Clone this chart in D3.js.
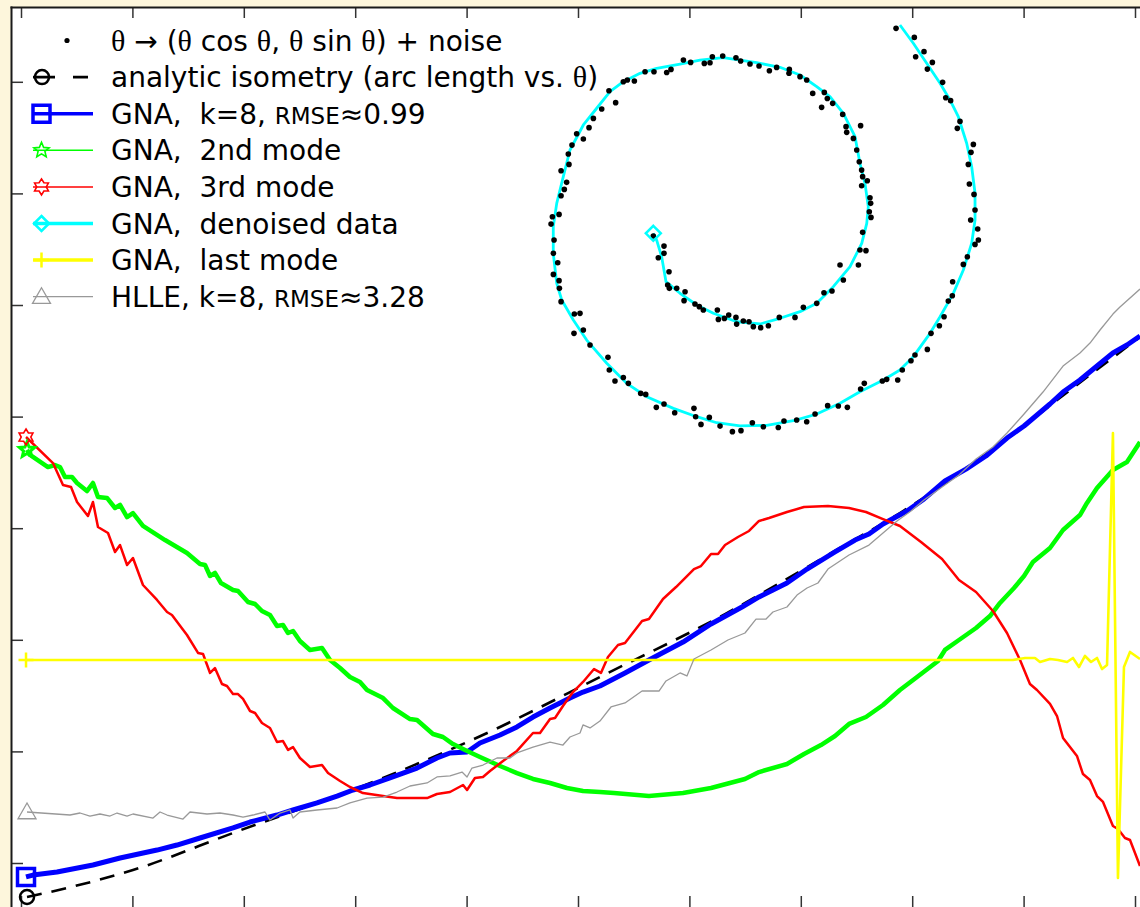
<!DOCTYPE html>
<html>
<head>
<meta charset="utf-8">
<script src="https://cdn.jsdelivr.net/npm/d3@7/dist/d3.min.js"></script>
<style>
  html, body { margin: 0; padding: 0; background: #fdf6dc; }
  svg { display: block; }
  text { font-family: "DejaVu Sans", sans-serif; white-space: pre; }
</style>
</head>
<body>
<svg></svg>
<script>
var width = 1140;
var height = 907;

// tick values (the axes carry no labels)
var xTicks = [0, 10, 20, 30, 40, 50, 60, 70, 80, 90, 100];
var yTicks = [0, 10, 20, 30, 40, 50, 60, 70];

// analytic isometry: arc length vs theta
var isometry = [[0.54,-3.05],[4.13,-2.24],[10.05,-0.63],[19.03,2.69],[32.50,7.62],[43.00,12.19],
  [51.97,16.67],[63.20,22.31],[68.13,25.09],[73.52,28.23],[78.90,31.36],[87.88,37.54],[94.17,42.38],[100.45,47.13]];

// GNA first mode (k=8)
var gnaMain = [[0.45,-1.25],[1.08,-1.08],[3.23,-0.81],[6.46,-0.18],[8.89,0.45],[12.21,1.16],[14.00,1.61],
  [16.07,2.24],[19.03,3.14],[20.56,3.67],[22.98,4.30],[24.42,4.75],[26.57,5.38],[28.37,6.00],[29.80,6.54],
  [31.33,6.99],[33.12,7.62],[35.55,8.51],[37.34,9.41],[38.51,9.86],[40.04,9.95],[41.20,10.75],[43.00,11.47],
  [44.52,12.19],[45.96,13.08],[47.49,13.89],[49.28,14.78],[50.45,15.32],[51.97,15.86],[54.22,17.03],
  [56.37,18.19],[59.43,19.80],[61.94,21.42],[64.72,22.94],[66.25,23.84],[68.76,25.09],[70.56,26.34],
  [73.07,27.87],[74.87,28.94],[76.12,29.48],[77.38,30.38],[79.53,31.54],[81.06,32.62],[82.94,34.23],
  [84.83,35.30],[86.62,36.47],[88.51,38.08],[90.04,39.16],[92.37,41.13],[93.54,42.20],[95.06,43.28],
  [96.59,44.53],[98.02,45.70],[99.28,46.42],[100.45,47.22]];

// GNA 2nd mode
var gnaMode2 = [[0.54,37.01],[0.81,36.56],[2.42,35.48],[3.05,35.66],[3.50,35.48],[3.95,34.59],[4.58,34.59],
  [5.03,34.05],[5.92,33.33],[6.46,34.05],[6.91,32.80],[7.72,32.71],[8.44,31.81],[8.89,32.08],[9.52,31.00],
  [10.05,31.36],[10.95,30.20],[12.93,28.94],[14.90,27.78],[16.07,26.79],[16.52,26.70],[16.97,25.72],
  [17.41,25.99],[17.95,25.09],[19.03,24.46],[19.48,24.37],[20.38,23.39],[21.01,23.21],[21.63,22.58],
  [22.35,22.22],[22.98,21.24],[23.52,21.33],[23.97,20.61],[24.42,20.79],[25.04,19.89],[25.94,19.09],
  [27.02,19.27],[27.74,18.19],[28.64,17.47],[29.53,16.67],[30.43,16.22],[31.06,15.50],[32.50,14.78],
  [33.39,13.89],[34.92,12.90],[35.55,12.81],[36.98,11.56],[37.88,11.29],[38.78,10.66],[39.86,10.13],
  [41.20,9.50],[43.00,8.69],[44.52,8.06],[45.96,7.53],[47.49,7.17],[49.01,6.72],[50.45,6.45],[51.97,6.36],
  [53.23,6.27],[56.37,6.00],[59.43,6.27],[61.94,6.72],[64.99,7.53],[66.25,8.15],[68.76,8.87],[70.29,9.77],
  [71.81,10.57],[73.07,11.38],[74.33,12.46],[75.85,13.08],[77.38,14.16],[78.90,15.50],[80.79,16.94],
  [82.32,18.10],[82.94,19.09],[84.20,19.98],[85.73,21.06],[86.98,22.13],[87.88,23.30],[89.14,24.64],
  [90.04,25.72],[90.84,26.97],[92.37,28.23],[93.54,29.84],[95.06,31.18],[95.69,32.26],[96.59,33.60],
  [98.02,35.22],[99.28,35.93],[100.45,37.72]];

// GNA 3rd mode
var gnaMode3 = [[0.45,38.17],[2.87,35.84],[3.77,33.87],[4.49,33.69],[5.03,32.35],[6.01,31.09],[6.46,32.35],
  [6.91,30.11],[7.81,29.57],[8.44,27.87],[8.89,28.49],[9.52,26.70],[10.05,27.33],[10.95,24.91],[12.21,23.57],
  [13.11,22.49],[13.55,22.22],[14.90,20.43],[15.89,18.82],[16.34,18.73],[16.97,17.03],[17.41,17.47],
  [18.04,16.04],[18.49,15.86],[19.03,15.14],[19.48,15.14],[19.93,14.70],[20.56,13.62],[21.01,13.44],
  [21.63,12.54],[22.35,12.10],[22.98,10.84],[23.52,10.93],[23.97,10.13],[24.42,10.39],[25.04,9.41],
  [25.94,8.60],[27.02,8.78],[27.56,8.06],[28.64,7.35],[29.53,6.81],[30.70,6.27],[32.50,6.00],[33.75,5.82],
  [36.45,5.82],[37.34,6.18],[38.51,6.36],[39.68,6.99],[40.04,6.54],[40.75,7.62],[41.47,7.71],[42.10,8.24],
  [43.27,9.14],[44.52,10.04],[45.96,11.65],[46.59,11.65],[47.49,12.90],[47.94,12.99],[48.65,14.07],
  [49.55,15.32],[50.45,16.22],[51.44,17.38],[52.06,17.03],[52.69,18.46],[53.59,19.53],[54.22,19.71],
  [55.75,21.68],[56.37,21.86],[57.63,23.66],[58.80,24.73],[60.41,26.34],[61.04,26.61],[61.94,27.69],
  [62.57,27.69],[63.20,28.49],[64.36,29.21],[65.35,29.75],[66.25,30.65],[67.15,30.91],[68.76,31.45],
  [70.29,31.90],[72.44,31.99],[74.33,31.81],[75.85,31.45],[77.38,30.82],[78.90,30.20],[80.79,28.76],
  [82.68,27.24],[84.20,25.36],[85.73,24.28],[87.25,22.58],[88.51,20.61],[89.68,18.19],[90.57,16.04],
  [91.20,15.50],[92.37,14.25],[93.00,13.17],[93.54,11.20],[94.79,9.59],[95.33,7.97],[95.96,7.44],
  [96.59,6.00],[97.13,5.47],[98.02,3.32],[98.47,3.05],[99.10,2.24],[99.55,2.06],[100.45,-0.27]];

// GNA last mode
var gnaLast = [[0.45,18.19],[87.88,18.19],[89.05,18.19],[90.13,18.37],[91.02,18.37],[91.47,18.01],
  [92.37,18.28],[93.09,18.19],[93.90,18.01],[94.43,18.37],[94.97,17.56],[95.51,18.55],[96.05,18.01],
  [96.59,18.37],[97.04,17.38],[97.49,17.74],[98.02,38.53],[98.47,-1.34],[99.01,17.56],[99.55,18.91],[100.45,18.28]];

// HLLE (k=8)
var hlle = [[0.54,4.57],[4.40,4.30],[5.30,4.48],[6.19,4.21],[7.09,4.39],[7.99,4.21],[8.62,4.48],[9.52,4.21],
  [10.05,4.39],[11.85,4.03],[12.48,4.57],[13.11,4.30],[14.54,3.94],[15.17,4.57],[16.70,4.39],[17.86,4.48],
  [19.03,4.30],[19.93,4.12],[20.83,4.30],[21.90,4.57],[22.35,3.85],[23.25,4.48],[24.15,4.75],[24.42,4.03],
  [25.04,4.57],[26.57,4.75],[28.37,4.93],[29.53,5.38],[31.06,5.82],[32.50,5.91],[33.75,6.36],[34.92,6.90],
  [36.45,7.17],[37.34,7.71],[38.51,7.80],[39.59,8.15],[40.04,7.71],[40.48,8.51],[41.47,8.78],[42.73,9.41],
  [43.90,9.41],[44.52,9.86],[45.96,10.39],[47.49,10.84],[48.65,10.57],[49.28,11.29],[50.18,11.65],
  [50.45,12.37],[51.08,12.10],[51.97,12.72],[52.96,13.98],[54.22,14.34],[55.75,15.41],[57.27,15.41],
  [57.90,16.31],[59.16,17.03],[59.78,16.76],[60.41,18.28],[61.94,19.09],[63.46,19.98],[64.99,20.61],
  [65.98,21.86],[66.88,21.86],[67.50,22.49],[68.76,22.94],[69.66,24.01],[70.56,24.64],[71.54,25.09],
  [72.44,26.34],[74.33,27.60],[76.12,28.49],[77.38,29.57],[78.64,30.65],[79.89,31.54],[81.06,32.53],
  [82.68,33.69],[84.20,34.77],[85.73,36.20],[87.25,37.28],[88.51,38.53],[90.04,40.23],[91.74,42.20],
  [93.54,44.53],[95.06,45.70],[95.96,46.59],[96.86,47.76],[98.02,49.19],[98.65,49.82],[100.45,51.43]];

// GNA denoised spiral
var denoised = [[56.76,56.42],[57.06,55.82],[57.51,54.33],[57.90,52.09],[59.16,51.05],[60.66,50.00],
  [62.15,49.26],[64.25,48.50],[66.34,48.30],[68.13,48.81],[69.93,49.40],[71.43,50.15],[72.92,51.64],
  [74.42,53.43],[75.47,55.53],[75.92,57.32],[76.06,58.81],[75.76,60.90],[75.31,62.70],[74.87,65.08],
  [73.82,67.18],[72.62,68.67],[71.43,69.56],[69.93,70.61],[68.13,71.30],[66.04,71.71],[64.54,71.95],
  [63.04,72.16],[60.95,71.95],[59.16,71.59],[57.06,71.21],[55.57,70.76],[54.07,70.01],[52.87,69.11],
  [51.68,67.63],[50.48,66.13],[49.28,63.89],[48.68,61.50],[48.09,59.11],[47.78,57.02],[47.78,54.63],
  [48.09,51.94],[48.54,50.45],[49.58,48.66],[50.78,46.86],[52.58,44.78],[54.37,42.98],[56.17,41.78],
  [58.56,40.74],[60.66,39.99],[62.45,39.45],[64.54,39.16],[66.94,39.22],[69.33,39.63],[71.43,40.23],
  [73.52,41.19],[75.31,42.23],[77.41,43.28],[78.90,44.18],[80.10,45.37],[81.60,47.46],[82.50,48.95],
  [83.69,51.04],[84.59,53.14],[85.34,55.53],[85.64,57.62],[85.64,60.01],[85.34,62.39],[84.89,64.49],
  [84.14,66.87],[83.39,68.37],[82.50,69.87],[81.30,71.66],[80.10,73.45],[78.90,75.09]];

// noisy samples theta -> (theta cos theta, theta sin theta) + noise
var noisy = [[78.55,74.79],[80.19,73.98],[81.06,72.70],[80.31,72.25],[81.81,71.74],[81.36,71.14],[82.73,69.95],
  [83.01,68.57],[83.45,68.31],[84.29,66.45],[84.05,65.83],[85.49,64.39],[85.28,63.68],[85.04,62.60],[85.13,60.84],
  [85.55,59.91],[85.64,58.51],[85.25,57.61],[85.88,56.81],[85.94,55.82],[85.64,55.43],[84.95,54.33],[84.59,53.64],
  [83.63,52.09],[83.60,50.83],[83.24,50.35],[82.86,48.95],[82.44,48.14],[81.69,47.46],[81.36,46.02],[80.25,45.52],
  [79.89,45.01],[79.11,44.17],[78.70,43.28],[77.71,43.34],[77.32,43.19],[75.70,42.98],[75.37,42.47],[74.18,40.83],
  [73.37,40.95],[72.41,40.98],[71.28,40.23],[70.53,39.54],[69.63,39.69],[68.49,39.60],[67.98,39.03],[66.64,39.09],
  [65.65,39.45],[64.63,38.74],[63.86,38.65],[62.75,39.15],[61.79,39.93],[61.04,39.30],[60.56,39.99],[60.41,40.74],
  [58.68,40.35],[57.72,41.13],[57.03,40.83],[56.08,41.99],[55.63,42.08],[54.52,42.98],[54.07,43.51],[53.32,43.19],
  [52.81,44.17],[52.69,45.31],[51.08,46.41],[50.48,47.76],[49.64,47.46],[50.18,49.25],[49.67,49.19],[48.48,50.30],
  [48.33,51.49],[48.30,52.18],[47.79,52.74],[48.18,53.79],[47.79,54.63],[47.85,55.82],[47.58,57.25],[48.30,58.12],
  [47.70,57.91],[48.48,59.79],[48.77,60.36],[48.98,60.99],[48.48,62.03],[49.19,62.60],[49.13,63.53],[49.46,64.33],
  [50.48,64.87],[49.88,65.35],[50.99,65.89],[51.38,66.72],[52.13,67.56],[53.38,68.13],[52.78,69.20],[54.07,70.01],
  [54.43,70.16],[55.06,70.07],[56.02,70.90],[56.82,70.90],[57.96,70.84],[58.35,71.11],[59.46,71.95],[60.11,71.74],
  [61.34,71.65],[61.85,71.71],[62.06,72.25],[62.99,72.31],[64.18,72.16],[64.60,71.86],[65.44,71.59],[66.25,71.41],
  [67.18,70.99],[67.83,71.29],[68.97,71.11],[68.94,70.76],[69.93,70.46],[70.53,70.16],[71.07,68.96],[72.11,69.05],
  [71.87,67.71],[72.38,68.51],[72.86,68.07],[73.76,67.08],[74.06,65.98],[75.37,66.07],[74.12,65.47],[74.72,64.93],
  [75.02,63.89],[75.25,62.84],[75.46,62.09],[75.55,61.50],[75.97,61.14],[75.46,60.69],[76.21,59.61],[76.27,59.11],
  [76.15,58.36],[76.30,57.85],[75.55,56.51],[75.85,54.87],[75.31,54.93],[75.17,53.58],[73.52,53.58],[73.82,52.24],
  [72.80,51.25],[72.08,51.10],[71.43,50.15],[70.23,49.79],[69.48,48.89],[68.07,48.89],[67.09,48.14],[66.40,47.97],
  [65.74,48.06],[65.35,48.50],[64.84,48.56],[64.24,48.29],[64.18,48.89],[63.53,49.10],[63.14,48.80],[62.60,48.71],
  [62.51,49.55],[61.25,49.55],[60.89,49.85],[60.50,50.09],[59.52,50.39],[59.61,51.19],[58.86,51.49],[58.20,51.49],
  [58.05,51.79],[58.17,52.98],[57.72,54.63],[57.72,55.28],[57.21,54.24],[56.76,56.18]];

var legendLabels = [
  "θ → (θ cos θ, θ sin θ) + noise",
  "analytic isometry (arc length vs. θ)",
  "GNA,  k=8, RMSE≈0.99",
  "GNA,  2nd mode",
  "GNA,  3rd mode",
  "GNA,  denoised data",
  "GNA,  last mode",
  "HLLE, k=8, RMSE≈3.28"
];

var svg = d3.select("svg").attr("width", width).attr("height", height);

var x = d3.scaleLinear().domain([0, 100]).range([21, 1135]);
var y = d3.scaleLinear().domain([0, 70]).range([863, 81.8]);

// white axes area
svg.append("rect").attr("x", 12).attr("y", 8).attr("width", 1200).attr("height", 1000).attr("fill", "#fff");

svg.append("defs").append("clipPath").attr("id", "plotclip")
  .append("rect").attr("x", 12).attr("y", 8).attr("width", 1130).attr("height", 900);

// ticks pointing inward
function styleAxis(g) {
  g.select(".domain").remove();
  g.selectAll(".tick line").attr("stroke", "#333").attr("stroke-width", 1.5);
}
svg.append("g").attr("transform", "translate(0,8)")
  .call(d3.axisTop(x).tickValues(xTicks).tickSizeInner(-10).tickSizeOuter(0).tickFormat(""))
  .call(styleAxis);
svg.append("g").attr("transform", "translate(0,908)")
  .call(d3.axisBottom(x).tickValues(xTicks).tickSizeInner(-12).tickSizeOuter(0).tickFormat(""))
  .call(styleAxis);
svg.append("g").attr("transform", "translate(12,0)")
  .call(d3.axisLeft(y).tickValues(yTicks).tickSizeInner(-11).tickSizeOuter(0).tickFormat(""))
  .call(styleAxis);

// axes frame
svg.append("line").attr("x1", 11.5).attr("x2", 11.5).attr("y1", 6.5).attr("y2", 910)
  .attr("stroke", "#1a1a1a").attr("stroke-width", 2);
svg.append("line").attr("x1", 10.5).attr("x2", 1145).attr("y1", 7.5).attr("y2", 7.5)
  .attr("stroke", "#1a1a1a").attr("stroke-width", 2);

// marker shapes
function squarePath(cx, cy, s) { return "M" + (cx - s) + "," + (cy - s) + "h" + 2 * s + "v" + 2 * s + "h" + (-2 * s) + "Z"; }
function diamondPath(cx, cy, s) { return "M" + cx + "," + (cy - s) + "L" + (cx + s) + "," + cy + "L" + cx + "," + (cy + s) + "L" + (cx - s) + "," + cy + "Z"; }
function plusPath(cx, cy, s) { return "M" + (cx - s) + "," + cy + "H" + (cx + s) + "M" + cx + "," + (cy - s) + "V" + (cy + s); }
function trianglePath(cx, cy, s) { return "M" + cx + "," + (cy - s) + "L" + (cx + s) + "," + (cy + s * 0.75) + "L" + (cx - s) + "," + (cy + s * 0.75) + "Z"; }
function starPath(cx, cy, R, n, ratio) {
  var pts = [];
  for (var i = 0; i < 2 * n; i++) {
    var r = i % 2 === 0 ? R : R * ratio;
    var a = -Math.PI / 2 + i * Math.PI / n;
    pts.push([cx + r * Math.cos(a), cy + r * Math.sin(a)]);
  }
  return "M" + pts.join("L") + "Z";
}

var series = [
  {key: "iso", data: isometry, color: "#000", w: 2.6, dash: "15,10", curve: d3.curveMonotoneX,
   lw: 2.6, ldash: "22,18"},
  {key: "gna", data: gnaMain, color: "#0000ff", w: 5, lw: 3.5,
   mk: function (cx, cy) { return squarePath(cx, cy, 8.5); }, mw: 3.5},
  {key: "m2", data: gnaMode2, color: "#00ff00", w: 4.5, lw: 1.5,
   mk: function (cx, cy) { return starPath(cx, cy, 8, 5, 0.45); }, mw: 1.6, pmw: 3},
  {key: "m3", data: gnaMode3, color: "#ff0000", w: 2.5, lw: 1.5,
   mk: function (cx, cy) { return starPath(cx, cy, 8, 6, 0.6); }, mw: 1.6},
  {key: "den", data: denoised, color: "#00ffff", w: 2.8, lw: 3.5,
   mk: function (cx, cy) { return diamondPath(cx, cy, 7.5); }, mw: 2.5},
  {key: "last", data: gnaLast, color: "#ffff00", w: 2.6, lw: 3.5,
   mk: function (cx, cy) { return plusPath(cx, cy, 7.5); }, mw: 2.5},
  {key: "hlle", data: hlle, color: "#999999", w: 1.3, lw: 1.3,
   mk: function (cx, cy) { return trianglePath(cx, cy, 9); }, mw: 1.3}
];

var plot = svg.append("g").attr("clip-path", "url(#plotclip)");

series.forEach(function (s) {
  var line = d3.line().x(function (d) { return x(d[0]); }).y(function (d) { return y(d[1]); })
    .curve(s.curve || d3.curveLinear);
  plot.append("path").datum(s.data)
    .attr("d", line).attr("fill", "none")
    .attr("stroke", s.color).attr("stroke-width", s.w)
    .attr("stroke-dasharray", s.dash || null)
    .attr("stroke-linejoin", "round");
  if (s.key === "den") {
    plot.append("g").selectAll("circle").data(noisy).join("circle")
      .attr("cx", function (d) { return x(d[0]); }).attr("cy", function (d) { return y(d[1]); })
      .attr("r", 2.8).attr("fill", "#000");
  }
});

// start markers
series.forEach(function (s) {
  var p = s.data[0];
  if (s.key === "iso") {
    plot.append("circle").attr("cx", x(p[0])).attr("cy", y(p[1])).attr("r", 7)
      .attr("fill", "none").attr("stroke", "#000").attr("stroke-width", 2.5);
  } else {
    plot.append("path").attr("d", s.mk(x(p[0]), y(p[1])))
      .attr("fill", "none").attr("stroke", s.color).attr("stroke-width", s.pmw || s.mw);
  }
});

// legend
var legend = svg.append("g");
var rowY = function (i) { return 40.5 + 36.6 * i; };

legend.append("circle").attr("cx", 67).attr("cy", rowY(0)).attr("r", 2.6).attr("fill", "#000");
series.forEach(function (s, i) {
  var cy = rowY(i + 1);
  if (s.key === "iso") {
    legend.append("line").attr("x1", 33).attr("x2", 88).attr("y1", cy).attr("y2", cy)
      .attr("stroke", "#000").attr("stroke-width", s.lw).attr("stroke-dasharray", s.ldash);
    legend.append("circle").attr("cx", 42).attr("cy", cy).attr("r", 7)
      .attr("fill", "none").attr("stroke", "#000").attr("stroke-width", 2.5);
  } else {
    legend.append("line").attr("x1", 33).attr("x2", 93).attr("y1", cy).attr("y2", cy)
      .attr("stroke", s.color).attr("stroke-width", s.lw);
    legend.append("path").attr("d", s.mk(41.5, cy))
      .attr("fill", "none").attr("stroke", s.color).attr("stroke-width", s.mw);
  }
});

legend.selectAll("text.lbl").data(legendLabels).join("text")
  .attr("class", "lbl")
  .attr("x", 111).attr("y", function (d, i) { return rowY(i) + 10; })
  .attr("font-size", 28).attr("fill", "#000")
  .each(function (d) {
    var t = d3.select(this);
    d.split(/(θ|RMSE)/).forEach(function (part) {
      if (!part) return;
      var ts = t.append("tspan").text(part);
      if (part === "θ") ts.style("font-family", "'Liberation Serif', serif").attr("font-size", 30);
      if (part === "RMSE") ts.attr("font-size", 23);
    });
  });
</script>
</body>
</html>
